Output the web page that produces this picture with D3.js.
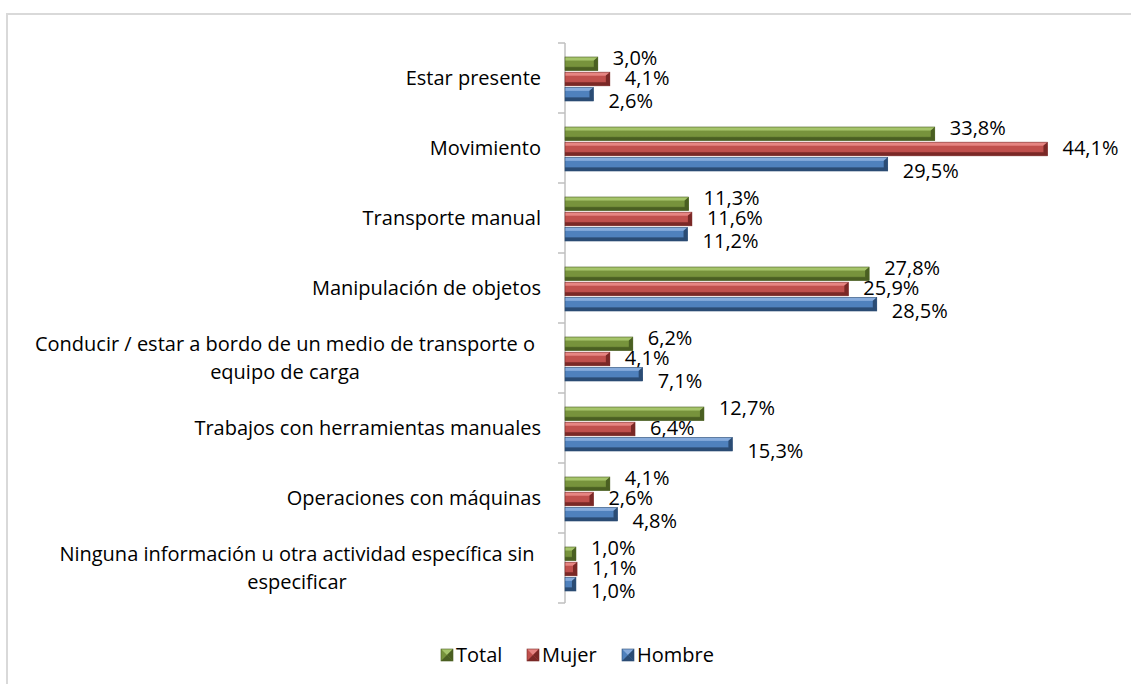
<!DOCTYPE html>
<html>
<head>
<meta charset="utf-8">
<script src="https://cdn.jsdelivr.net/npm/d3@7"></script>
<style>
  body { margin: 0; background: #fff; }
  svg { display: block; font-family: "Open Sans", "Noto Sans", sans-serif; }
</style>
</head>
<body>
<svg width="1131" height="684"></svg>
<script>
// categories (top to bottom), label lines
const categories = [
  "Estar presente",
  "Movimiento",
  "Transporte manual",
  "Manipulación de objetos",
  "Conducir / estar a bordo de un medio de transporte o equipo de carga",
  "Trabajos con herramientas manuales",
  "Operaciones con máquinas",
  "Ninguna información u otra actividad específica sin especificar"
];
const categoryLines = [
  ["Estar presente"],
  ["Movimiento"],
  ["Transporte manual"],
  ["Manipulación de objetos"],
  ["Conducir / estar a bordo de un medio de transporte o", "equipo de carga"],
  ["Trabajos con herramientas manuales"],
  ["Operaciones con máquinas"],
  ["Ninguna información u otra actividad específica sin", "especificar"]
];
const series = ["Total", "Mujer", "Hombre"];
const total = [3.0, 33.8, 11.3, 27.8, 6.2, 12.7, 4.1, 1.0];
const mujer = [4.1, 44.1, 11.6, 25.9, 4.1, 6.4, 2.6, 1.1];
const hombre = [2.6, 29.5, 11.2, 28.5, 7.1, 15.3, 4.8, 1.0];

const values = { Total: total, Mujer: mujer, Hombre: hombre };
const colors = {
  Total: { light: "#a5c46a", base: "#77933c", dark: "#4a5f22" },
  Mujer: { light: "#e68582", base: "#c0504d", dark: "#7a2826" },
  Hombre: { light: "#86abdc", base: "#4f81bd", dark: "#2b4c74" }
};
// label vertical nudges so stacked labels don't overlap
const labelShift = { Total: -6, Mujer: -1, Hombre: 7 };

const fontSize = 20;
const svg = d3.select("svg");

// chart frame
svg.append("rect")
  .attr("x", 7).attr("y", 14)
  .attr("width", 1200).attr("height", 800)
  .attr("fill", "none")
  .attr("stroke", "#d9d9d9")
  .attr("stroke-width", 2);

// gradients
const defs = svg.append("defs");
series.forEach(s => {
  const c = colors[s];
  const g = defs.append("linearGradient")
    .attr("id", "grad-" + s)
    .attr("x1", 0).attr("y1", 0).attr("x2", 0).attr("y2", 1);
  g.append("stop").attr("offset", "0%").attr("stop-color", c.light);
  g.append("stop").attr("offset", "22%").attr("stop-color", c.light);
  g.append("stop").attr("offset", "30%").attr("stop-color", c.base);
  g.append("stop").attr("offset", "68%").attr("stop-color", c.base);
  g.append("stop").attr("offset", "78%").attr("stop-color", c.dark);
  g.append("stop").attr("offset", "100%").attr("stop-color", c.dark);
});

// scales
const x = d3.scaleLinear().domain([0, 50]).range([565, 1112]);
const y = d3.scaleBand().domain(categories).range([43, 603]);
const ySub = d3.scaleBand().domain(series).range([0, 44]).paddingInner(0.1);
const groupOffset = (y.bandwidth() - 44) / 2 + 1;

// axis
const axis = svg.append("g").attr("stroke", "#bfbfbf").attr("stroke-width", 1.5);
axis.append("line")
  .attr("x1", x(0)).attr("x2", x(0))
  .attr("y1", y.range()[0]).attr("y2", y.range()[1]);
axis.selectAll(".tick")
  .data(categories.map(c => y(c)).concat([y.range()[1]]))
  .enter().append("line")
  .attr("x1", x(0) - 7).attr("x2", x(0))
  .attr("y1", d => d).attr("y2", d => d);

// category labels (wrapped ones are centred)
const wrapCenter = { 4: 285, 7: 297 };
const catG = svg.append("g")
  .attr("font-size", fontSize)
  .attr("fill", "#000");
categories.forEach((c, i) => {
  const lines = categoryLines[i];
  const cy = y(c) + y.bandwidth() / 2;
  const lh = 28;
  const lx = lines.length > 1 ? wrapCenter[i] : 541;
  const t = catG.append("text")
    .attr("text-anchor", lines.length > 1 ? "middle" : "end")
    .attr("x", lx);
  lines.forEach((ln, j) => {
    t.append("tspan")
      .attr("x", lx)
      .attr("y", cy + (j - (lines.length - 1) / 2) * lh)
      .attr("dy", "0.35em")
      .text(ln);
  });
});

// bars
const fmt = v => d3.format(".1f")(v).replace(".", ",") + "%";
series.forEach(s => {
  const c = colors[s];
  const g = svg.append("g").attr("class", "series-" + s);
  const data = categories.map((cat, i) => ({ cat: cat, v: values[s][i] }));
  const bar = g.selectAll("g.bar").data(data).enter().append("g")
    .attr("transform", d => "translate(0," + (y(d.cat) + groupOffset + ySub(s)) + ")");
  const h = ySub.bandwidth();
  bar.append("rect")
    .attr("x", x(0))
    .attr("y", 0)
    .attr("width", d => x(d.v) - x(0))
    .attr("height", h)
    .attr("fill", "url(#grad-" + s + ")");
  // bevelled end cap
  bar.append("path")
    .attr("d", d => {
      const xe = x(d.v), w = Math.min(4, (x(d.v) - x(0)) / 2);
      return "M" + (xe - w) + "," + (h * 0.25) + "L" + xe + ",0L" + xe + "," + h +
        "L" + (xe - w) + "," + (h * 0.75) + "Z";
    })
    .attr("fill", c.dark);
  bar.append("rect")
    .attr("x", x(0))
    .attr("y", 0)
    .attr("width", d => x(d.v) - x(0))
    .attr("height", h)
    .attr("fill", "none")
    .attr("stroke", c.dark)
    .attr("stroke-width", 0.6);
  bar.append("text")
    .attr("x", d => x(d.v) + 15)
    .attr("y", h / 2 + labelShift[s])
    .attr("dy", "0.35em")
    .attr("font-size", fontSize)
    .text(d => fmt(d.v));
});

// legend
const legendX = [441, 527, 622];
const legend = svg.append("g").attr("font-size", fontSize);
series.forEach((s, i) => {
  const c = colors[s];
  const lg = legend.append("g").attr("transform", "translate(" + legendX[i] + ",649)");
  const sz = 12;
  lg.append("rect").attr("width", sz).attr("height", sz).attr("fill", c.base);
  lg.append("path").attr("d", "M0,0L" + sz + ",0L" + (sz / 2) + "," + (sz / 2) + "Z").attr("fill", c.light);
  lg.append("path").attr("d", "M" + sz + ",0L" + sz + "," + sz + "L" + (sz / 2) + "," + (sz / 2) + "Z").attr("fill", c.dark);
  lg.append("path").attr("d", "M0," + sz + "L" + sz + "," + sz + "L" + (sz / 2) + "," + (sz / 2) + "Z").attr("fill", c.dark);
  lg.append("rect").attr("width", sz).attr("height", sz).attr("fill", "none").attr("stroke", c.dark).attr("stroke-width", 0.6);
  lg.append("text")
    .attr("x", sz + 3)
    .attr("y", sz / 2)
    .attr("dy", "0.35em")
    .text(s);
});
</script>
</body>
</html>
